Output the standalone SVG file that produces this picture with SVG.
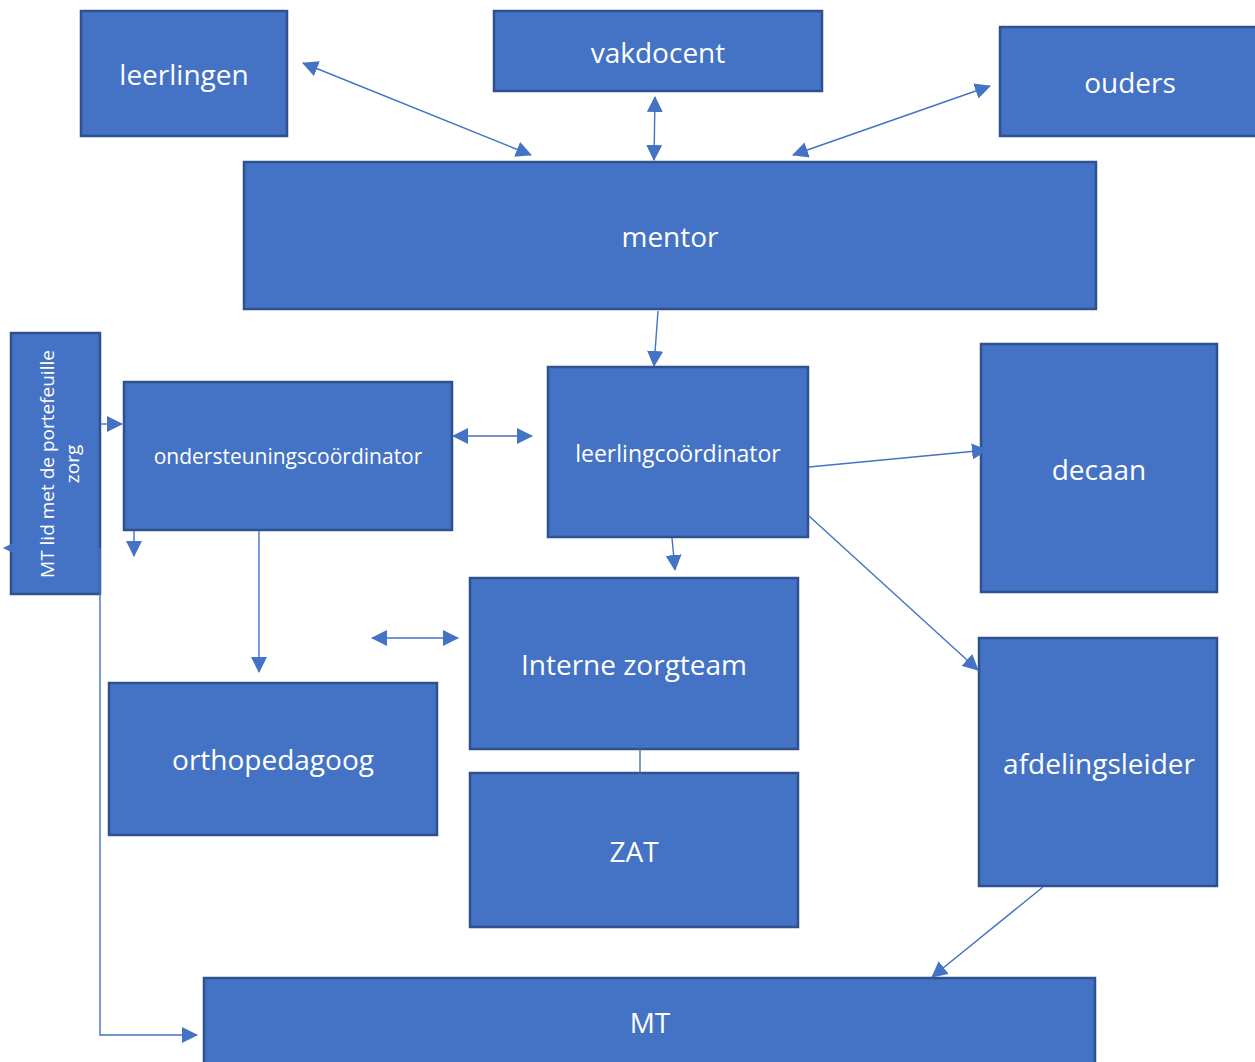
<svg xmlns="http://www.w3.org/2000/svg" width="1255" height="1062" viewBox="0 0 1255 1062">
<defs>
<style>
.box{fill:#4472C4;stroke:#2F528F;stroke-width:2.5}
.lbl{fill:#ffffff;font-family:"Open Sans","Noto Sans",sans-serif;font-size:28px;text-anchor:middle;dominant-baseline:central}
.sm{font-size:21px}
.md{font-size:23px}
.rot{font-size:19px}
.con{fill:none;stroke:#4472C4;stroke-width:1.4}
</style>
<marker id="ah" markerUnits="userSpaceOnUse" markerWidth="16" markerHeight="16" viewBox="0 0 16 16" refX="15" refY="8" orient="auto-start-reverse">
<path d="M0,0 L16,8 L0,16 z" fill="#4472C4"/>
</marker>
</defs>
<rect width="1255" height="1062" fill="#ffffff"/>
<g id="leerlingen"><rect class="box" x="81" y="11" width="206" height="125"/><text class="lbl" x="184" y="74">leerlingen</text></g>
<g id="vakdocent"><rect class="box" x="494" y="11" width="328" height="80"/><text class="lbl" x="658" y="52">vakdocent</text></g>
<g id="ouders"><rect class="box" x="1000" y="27" width="262" height="109"/><text class="lbl" x="1130" y="82">ouders</text></g>
<g id="mentor"><rect class="box" x="244" y="162" width="852" height="147"/><text class="lbl" x="670" y="236">mentor</text></g>
<g id="mtlid"><rect class="box" x="11" y="333" width="89" height="261"/>
<g transform="translate(60,464) rotate(-90)"><text class="lbl rot" x="0" y="-13">MT lid met de portefeuille</text><text class="lbl rot" x="0" y="12">zorg</text></g></g>
<g id="ondersteuningscoordinator"><rect class="box" x="124" y="382" width="328" height="148"/><text class="lbl sm" x="288" y="456">ondersteuningscoördinator</text></g>
<g id="leerlingcoordinator"><rect class="box" x="548" y="367" width="260" height="170"/><text class="lbl md" x="678" y="453">leerlingcoördinator</text></g>
<g id="decaan"><rect class="box" x="981" y="344" width="236" height="248"/><text class="lbl" x="1099" y="469">decaan</text></g>
<g id="internezorgteam"><rect class="box" x="470" y="578" width="328" height="171"/><text class="lbl" x="634" y="664">Interne zorgteam</text></g>
<g id="orthopedagoog"><rect class="box" x="109" y="683" width="328" height="152"/><text class="lbl" x="273" y="759">orthopedagoog</text></g>
<g id="zat"><rect class="box" x="470" y="773" width="328" height="154"/><text class="lbl" x="634" y="851">ZAT</text></g>
<g id="afdelingsleider"><rect class="box" x="979" y="638" width="238" height="248"/><text class="lbl" x="1099" y="763">afdelingsleider</text></g>
<g id="mt"><rect class="box" x="204" y="978" width="891" height="100"/><text class="lbl" x="650" y="1022">MT</text></g>
<g id="connectors">
<line class="con" x1="303" y1="63" x2="531" y2="155" marker-start="url(#ah)" marker-end="url(#ah)"/>
<line class="con" x1="655" y1="97" x2="654" y2="160" marker-start="url(#ah)" marker-end="url(#ah)"/>
<line class="con" x1="990" y1="86" x2="793" y2="155" marker-start="url(#ah)" marker-end="url(#ah)"/>
<line class="con" x1="658" y1="311" x2="654" y2="366" marker-end="url(#ah)"/>
<line class="con" x1="453" y1="436" x2="532" y2="436" marker-start="url(#ah)" marker-end="url(#ah)"/>
<line class="con" x1="100" y1="424" x2="122" y2="424" marker-end="url(#ah)"/>
<line class="con" x1="134" y1="531" x2="134" y2="556" marker-end="url(#ah)"/>
<line class="con" x1="12" y1="548" x2="4" y2="548" marker-end="url(#ah)"/>
<path class="con" d="M100,548 L100,1035 L197,1035" marker-end="url(#ah)"/>
<line class="con" x1="259" y1="531" x2="259" y2="672" marker-end="url(#ah)"/>
<line class="con" x1="372" y1="638" x2="458" y2="638" marker-start="url(#ah)" marker-end="url(#ah)"/>
<line class="con" x1="672" y1="538" x2="675" y2="570" marker-end="url(#ah)"/>
<line class="con" x1="640" y1="749" x2="640" y2="773"/>
<line class="con" x1="809" y1="467" x2="987" y2="450" marker-end="url(#ah)"/>
<line class="con" x1="809" y1="516" x2="978" y2="670" marker-end="url(#ah)"/>
<line class="con" x1="1043" y1="887" x2="932" y2="977" marker-end="url(#ah)"/>
</g>
</svg>
